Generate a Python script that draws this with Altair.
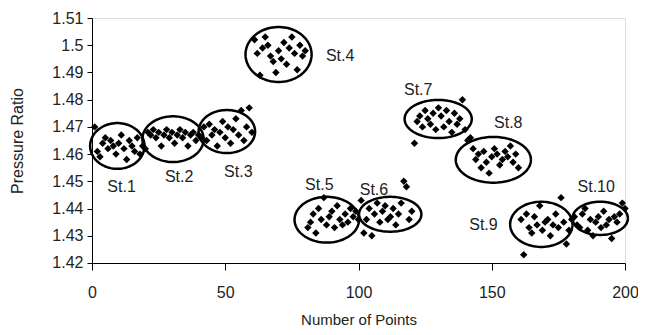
import altair as alt
import numpy as np
import pandas as pd

stations = ["St.1", "St.2", "St.3", "St.4", "St.5", "St.6", "St.7", "St.8", "St.9", "St.10"]

# Pressure ratio readings, 20 per station (points 1..200)
st1 = [1.470, 1.461, 1.459, 1.464, 1.466, 1.462, 1.465, 1.463, 1.460, 1.464, 1.467, 1.462, 1.458, 1.465, 1.463, 1.461, 1.466, 1.460, 1.463, 1.462]
st2 = [1.468, 1.467, 1.469, 1.466, 1.468, 1.463, 1.467, 1.469, 1.466, 1.468, 1.464, 1.467, 1.469, 1.466, 1.468, 1.463, 1.467, 1.468, 1.465, 1.467]
st3 = [1.466, 1.470, 1.465, 1.471, 1.467, 1.469, 1.463, 1.468, 1.472, 1.466, 1.470, 1.464, 1.469, 1.473, 1.467, 1.476, 1.465, 1.470, 1.477, 1.468]
st4 = [1.502, 1.497, 1.489, 1.499, 1.503, 1.500, 1.496, 1.494, 1.490, 1.498, 1.495, 1.501, 1.493, 1.499, 1.503, 1.497, 1.491, 1.500, 1.496, 1.498]
st5 = [1.433, 1.435, 1.438, 1.431, 1.440, 1.436, 1.444, 1.434, 1.437, 1.439, 1.433, 1.441, 1.436, 1.434, 1.438, 1.435, 1.440, 1.437, 1.439, 1.436]
st6 = [1.443, 1.431, 1.436, 1.440, 1.430, 1.438, 1.442, 1.435, 1.439, 1.441, 1.436, 1.437, 1.440, 1.434, 1.438, 1.442, 1.450, 1.448, 1.436, 1.439]
st7 = [1.464, 1.472, 1.474, 1.470, 1.476, 1.473, 1.471, 1.475, 1.469, 1.477, 1.474, 1.470, 1.476, 1.472, 1.468, 1.475, 1.471, 1.473, 1.480, 1.469]
st8 = [1.465, 1.466, 1.462, 1.458, 1.460, 1.455, 1.461, 1.457, 1.453, 1.459, 1.462, 1.460, 1.456, 1.458, 1.461, 1.459, 1.463, 1.457, 1.460, 1.455]
st9 = [1.436, 1.423, 1.438, 1.433, 1.431, 1.437, 1.434, 1.441, 1.432, 1.435, 1.436, 1.430, 1.434, 1.438, 1.433, 1.444, 1.435, 1.427, 1.432, 1.436]
st10 = [1.437, 1.434, 1.433, 1.438, 1.440, 1.432, 1.436, 1.430, 1.435, 1.437, 1.433, 1.439, 1.434, 1.436, 1.429, 1.437, 1.435, 1.438, 1.442, 1.440]
series = [st1, st2, st3, st4, st5, st6, st7, st8, st9, st10]

# Ellipse annotations (data units): centre x, centre y, radius x, radius y
ell_cx = [9.5, 30.4, 50.6, 70.0, 88.1, 111.9, 129.9, 150.6, 168.6, 190.7]
ell_cy = [1.4630, 1.4655, 1.4683, 1.4966, 1.4359, 1.4379, 1.4729, 1.4579, 1.4342, 1.4364]
ell_rx = [10.2, 11.5, 10.6, 12.4, 12.1, 11.7, 12.6, 14.1, 11.7, 10.4]
ell_ry = [0.0084, 0.0084, 0.0079, 0.0101, 0.0084, 0.0064, 0.0070, 0.0084, 0.0083, 0.0061]

# Label positions
lab_x = [11.1, 32.7, 54.9, 93.1, 85.3, 105.8, 122.4, 156.2, 146.9, 189.2]
lab_y = [1.4480, 1.4516, 1.4535, 1.4960, 1.4487, 1.4469, 1.4836, 1.4715, 1.4340, 1.4480]

x_ticks = [0, 50, 100, 150, 200]
y_ticks = [1.42, 1.43, 1.44, 1.45, 1.46, 1.47, 1.48, 1.49, 1.50, 1.51]

rows = []
for i, s in enumerate(series):
    for j, v in enumerate(s):
        rows.append({"n": i * 20 + j + 1, "p": v, "station": stations[i]})
pts = pd.DataFrame(rows)

erows = []
theta = np.linspace(0, 2 * np.pi, 91)
for i in range(len(stations)):
    for k, t in enumerate(theta):
        erows.append({"station": stations[i], "k": k,
                      "x": ell_cx[i] + ell_rx[i] * np.cos(t),
                      "y": ell_cy[i] + ell_ry[i] * np.sin(t)})
ell = pd.DataFrame(erows)

labs = pd.DataFrame({"x": lab_x, "y": lab_y, "t": stations})

font = "Liberation Sans"
xscale = alt.Scale(domain=[0, 200], nice=False, zero=False)
yscale = alt.Scale(domain=[1.419999, 1.510001], nice=False, zero=False)

xax = alt.Axis(values=x_ticks, tickCount=10, title="Number of Points", grid=False, tickSize=7,
               labelPadding=14, titlePadding=12, labelFontSize=16, titleFontSize=15,
               labelFont=font, titleFont=font, titleFontWeight="normal", labelOverlap=False,
               labelFlush=False,
               domainColor="black", tickColor="black", labelColor="#222", titleColor="#222")
yax = alt.Axis(values=y_ticks, tickCount=20, title="Pressure Ratio", grid=False, tickSize=5,
               labelPadding=4, titlePadding=26, labelFontSize=16, titleFontSize=16,
               labelFont=font, titleFont=font, titleFontWeight="normal", labelOverlap=False,
               labelFlush=False,
               labelExpr="format(datum.value, '.2~f')",
               domainColor="black", tickColor="black", labelColor="#222", titleColor="#222")

points = alt.Chart(pts).mark_point(shape="diamond", filled=True, color="black", size=55, opacity=1).encode(
    x=alt.X("n:Q", scale=xscale, axis=xax),
    y=alt.Y("p:Q", scale=yscale, axis=yax),
)

ellipses = alt.Chart(ell).mark_line(color="black", strokeWidth=2.5).encode(
    x=alt.X("x:Q", scale=xscale),
    y=alt.Y("y:Q", scale=yscale),
    detail="station:N",
    order="k:Q",
)

labels = alt.Chart(labs).mark_text(font=font, fontSize=16, color="#222").encode(
    x=alt.X("x:Q", scale=xscale),
    y=alt.Y("y:Q", scale=yscale),
    text="t:N",
)

chart = alt.layer(points, ellipses, labels).properties(
    width=533, height=245,
    padding={"left": 84, "top": 10, "right": 13, "bottom": 70},
    autosize="none",
).configure_view(stroke="#888", strokeWidth=1).configure(background="white")

chart.save("out.html", embed_options={"renderer": "svg", "actions": False})
